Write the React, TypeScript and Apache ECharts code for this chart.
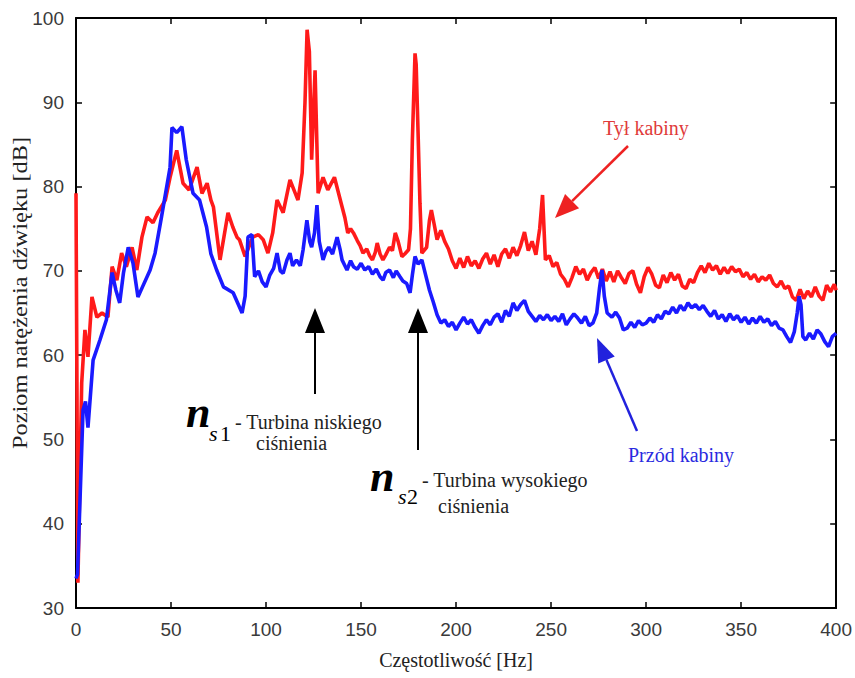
import React, { useEffect, useRef } from "react";
import * as echarts from "echarts";

// Tył kabiny (rear of cabin) — red: [frequency Hz, level dB]
const rearPoints: number[][] = [
  [0, 79.2], [1, 33], [3, 56.7], [4.7, 63], [6.3, 59.8], [8.4, 66.9], [11, 64.5], [13.7, 65], [16.8, 64.5],
  [19, 70.5], [21.5, 68.9], [24, 72.1], [26.5, 70.5], [29.5, 72.8], [32, 70.1], [34.7, 74], [37.4, 76.4],
  [40.5, 75.7], [43, 76.9], [47, 78.4], [49.5, 81.1], [53, 84.3], [56.3, 80.4], [59.5, 79.6], [63.7, 82.3],
  [66.3, 79.2], [69, 80.4], [71, 78.4], [72.3, 77.6], [75.8, 71.3], [80, 76.9], [82.5, 75.2], [84.7, 74],
  [86, 73.7], [89, 71.7], [93, 74], [96, 74.3], [98.5, 73.7], [101, 72.1], [103.5, 74.5], [105.8, 78.4],
  [109, 76.9], [112.6, 80.8], [116.8, 78.4], [119, 81.6], [120.5, 90], [121.6, 98.6], [122.8, 96], [124, 83.2],
  [125.8, 93.8], [127.4, 79.2], [130, 81.1], [132.5, 79.6], [136, 81.1], [140, 77.6], [141.5, 76.3], [143, 74.5],
  [144.5, 75], [146, 74.5], [148, 73.6], [149.5, 73], [151, 72.1], [153, 72.6], [154.5, 71.8], [156, 71.3],
  [157.5, 72.2], [158.5, 73.3], [160, 72], [161.5, 71.3], [163, 71.9], [165, 72.8], [166.5, 72.4], [168, 74.5],
  [169.5, 73.5], [171.5, 71.7], [173, 72], [175, 72.5], [176, 75], [177, 85.5], [178.4, 95.8], [179, 94.5],
  [180, 86.4], [181, 78], [182, 72.1], [184.5, 72.8], [186, 76], [187, 77.2], [188.5, 75.5], [190, 73.7],
  [192, 74.8], [194, 73.5], [196, 72.6], [198, 71.2], [200, 70.3], [202, 71.5], [204, 70.4], [206, 71.7],
  [208, 70.6], [210, 71.2], [212, 70.3], [214, 71.4], [216, 72.1], [218, 70.8], [220, 71.9], [222, 70.5],
  [224, 72], [226, 72.6], [228, 71.5], [230, 72.8], [232, 71.8], [234, 73], [236, 74.6], [238, 72.4],
  [240, 73.5], [242, 71.9], [244, 75], [245.5, 79], [247, 71.3], [249, 71.8], [251, 70.5], [253, 71],
  [255, 69.6], [257, 69], [259, 68.1], [261, 69.2], [263, 70.5], [265, 69.6], [267, 70.2], [269, 68.9],
  [271, 69.8], [273, 70.4], [275, 69.1], [277, 70.2], [279, 68.8], [281, 69.9], [283, 68.7], [285, 70],
  [287, 69.2], [289, 68.5], [291, 69.7], [293, 70], [295, 68.4], [297, 67.4], [299, 69.3], [301, 70.4],
  [303, 69.6], [305, 68.3], [307, 68], [309, 69.5], [311, 68.6], [313, 69.8], [315, 68.9], [317, 69.6],
  [319, 68.2], [321, 67.9], [323, 69], [325, 68.6], [327, 69.8], [329, 70.6], [331, 69.8], [333, 70.9],
  [335, 70.1], [337, 70.6], [339, 69.6], [341, 70.4], [343, 69.7], [345, 70.5], [347, 69.9], [349, 70.2],
  [351, 69.3], [353, 69.8], [355, 69], [357, 69.6], [359, 68.7], [361, 69.3], [363, 68.9], [365, 69.5],
  [367, 68.5], [369, 68.1], [371, 68.8], [373, 67.9], [375, 68.2], [377, 66.9], [379, 66.5], [381, 67.8],
  [383, 66.7], [385, 67.6], [387, 66.9], [389, 68.1], [391, 67], [393, 66.5], [395, 68.3], [397, 67.5],
  [399, 68.4], [400, 67.7],
];

// Przód kabiny (front of cabin) — blue: [frequency Hz, level dB]
const frontPoints: number[][] = [
  [0, 33.5], [0.8, 34], [3.7, 53.5], [5, 54.5], [6.3, 51.4], [9, 59.4], [12.6, 61.8], [16, 64.2], [19, 69.8],
  [21, 67.7], [23, 66.2], [25, 69.8], [27.5, 72.8], [30, 70.9], [32.6, 66.9], [35, 68.1], [39, 70.1],
  [41.6, 72.1], [45, 76.4], [49.5, 82.3], [50.5, 87], [53, 86.4], [55.7, 87.1], [58, 83.2], [61.6, 79.2],
  [65, 78.4], [68.7, 75.2], [71, 72], [74, 70.1], [77.6, 68.1], [82.7, 67.4], [87.4, 65], [89, 67],
  [90.5, 74], [92.6, 74.3], [94, 69.3], [96, 70], [98, 68.7], [100, 68.1], [102, 69.5], [104, 70.3],
  [105.8, 72.1], [107.5, 70], [109, 69.7], [111, 71.3], [112.6, 72.1], [114, 70.6], [116, 71.3], [118, 70.6],
  [119.5, 72.5], [121.5, 76], [123, 73.5], [124, 72.8], [125.5, 74.5], [126.8, 77.8], [128, 73.5], [130, 71.3],
  [131.5, 72.3], [133, 72.8], [135, 72], [137.4, 74], [139, 72.5], [140, 71.3], [141.5, 70.6], [142.6, 70.1],
  [144.5, 71.2], [146, 70.5], [148, 70.2], [150, 70.9], [152, 70.1], [154, 70.5], [156, 69.6], [158, 70.2],
  [160, 69.3], [161.6, 68.9], [163, 69.8], [165, 70.1], [167, 69.2], [168.5, 70], [170.5, 69.3], [172, 68.8],
  [174, 68.5], [175.8, 67.4], [177, 69.5], [178.4, 71.7], [180, 70.8], [182, 71.3], [184, 69.5], [186, 67.7],
  [188, 66.3], [190, 64.8], [192, 63.8], [194, 64.2], [196, 63.4], [198, 63.9], [200, 63], [202, 63.8],
  [204, 64.5], [206, 63.7], [208, 64.2], [210, 63.3], [212, 62.6], [214, 63.5], [216, 64.2], [218, 63.6],
  [220, 64.5], [222, 64.9], [224, 63.9], [226, 65.3], [228, 64.6], [230, 66.2], [232, 65.3], [234, 66],
  [236, 66.5], [238, 65.2], [240, 64.6], [242, 64], [244, 64.7], [246, 64.2], [248, 64.8], [250, 64.1],
  [252, 64.6], [254, 64], [256, 64.9], [258, 63.6], [260, 64.3], [262, 64.9], [264, 64.4], [266, 63.8],
  [268, 64.6], [270, 63.5], [272, 63.8], [274, 65], [275.5, 68], [276.8, 70.1], [278, 67], [279.5, 65],
  [282, 64.5], [284, 65.1], [286, 64.4], [288, 63], [290, 63.2], [292, 63.9], [294, 63.3], [296, 64.1],
  [298, 63.6], [300, 63.8], [302, 64.4], [304, 63.9], [306, 64.8], [308, 64.3], [310, 65.2], [312, 64.9],
  [314, 65.7], [316, 65], [318, 65.9], [320, 65.3], [322, 66.2], [324, 65.6], [326, 66], [328, 65.4],
  [330, 65.9], [332, 65.2], [334, 64.6], [336, 65.3], [338, 64.3], [340, 64.8], [342, 64], [344, 64.9],
  [346, 64.2], [348, 64.7], [350, 63.9], [352, 64.5], [354, 63.7], [356, 64.4], [358, 63.8], [360, 64.6],
  [362, 63.9], [364, 64.3], [366, 63.5], [368, 64], [370, 63.2], [372, 63], [374, 62.2], [376, 61.5],
  [378, 62.8], [379.5, 65], [380.5, 67], [381.5, 66], [382.5, 62.2], [384, 61.8], [386, 62.6], [388, 61.9],
  [390, 63], [392, 62.5], [394, 61.6], [396, 61], [398, 62.2], [400, 62.6],
];

const xTicks = { min: 0, max: 400, interval: 50 };
const yTicks = { min: 30, max: 100, interval: 10 };

const xTitle = "Częstotliwość [Hz]";
const yTitle = "Poziom natężenia dźwięku [dB]";
const rearLabel = "Tył kabiny";
const frontLabel = "Przód kabiny";
const ns1Label = ["- Turbina niskiego", "ciśnienia"];
const ns2Label = ["- Turbina wysokiego", "ciśnienia"];

const SERIF = "'Liberation Serif', 'Times New Roman', serif";
const SANS = "'Liberation Sans', Arial, sans-serif";

function arrow(tail: number[], tip: number[], color: string, len: number, half: number, width: number) {
  const dx = tip[0] - tail[0];
  const dy = tip[1] - tail[1];
  const d = Math.sqrt(dx * dx + dy * dy);
  const ux = dx / d, uy = dy / d;
  const bx = tip[0] - ux * len, by = tip[1] - uy * len;
  const px = -uy, py = ux;
  return [
    {
      type: "line",
      shape: { x1: tail[0], y1: tail[1], x2: bx, y2: by },
      style: { stroke: color, lineWidth: width },
      silent: true,
    },
    {
      type: "polygon",
      shape: {
        points: [
          [tip[0], tip[1]],
          [bx + px * half, by + py * half],
          [bx - px * half, by - py * half],
        ],
      },
      style: { fill: color },
      silent: true,
    },
  ];
}

function txt(text: string, x: number, y: number, size: number, color: string, extra: any = {}) {
  return {
    type: "text",
    x,
    y,
    silent: true,
    style: {
      text,
      fontFamily: SERIF,
      fontSize: size,
      fill: color,
      align: "left",
      verticalAlign: "middle",
      ...extra,
    },
  };
}

export default function App() {
  const ref = useRef<HTMLDivElement>(null);
  useEffect(() => {
    if (!ref.current) return;
    const chart = echarts.init(ref.current, undefined, { renderer: "svg" });
    const axisLine = { show: true, onZero: false, lineStyle: { color: "#000", width: 2 } };
    const tick = { show: true, inside: true, length: 6, lineStyle: { color: "#000", width: 1.5 } };
    const label = { fontFamily: SANS, fontSize: 19, color: "#3a3a3a" };

    const graphic: any[] = [
      {
        type: "text",
        x: 20,
        y: 293,
        rotation: Math.PI / 2,
        scaleX: 1.22,
        silent: true,
        style: {
          text: yTitle,
          fontFamily: SERIF,
          fontSize: 20,
          fill: "#222",
          align: "center",
          verticalAlign: "middle",
        },
      },
      ...arrow([315, 394], [315, 308], "#000", 25, 10, 2),
      ...arrow([418, 450], [418, 308], "#000", 25, 10, 2),
      ...arrow([628, 146], [555, 218], "#ee2222", 24, 10, 2.5),
      ...arrow([637, 431], [597, 338], "#2222dd", 24, 9, 2.5),
      txt("n", 186, 412, 44, "#000", { fontStyle: "italic", fontWeight: "bold" }),
      txt("s", 209, 433, 22, "#000", { fontStyle: "italic" }),
      txt("1", 220, 433, 22, "#000"),
      txt(ns1Label[0], 235, 422, 20, "#222"),
      txt(ns1Label[1], 256, 443, 20, "#222"),
      txt("n", 370, 476, 44, "#000", { fontStyle: "italic", fontWeight: "bold" }),
      txt("s", 398, 496, 22, "#000", { fontStyle: "italic" }),
      txt("2", 407, 496, 22, "#000"),
      txt(ns2Label[0], 422, 480, 20, "#222"),
      txt(ns2Label[1], 438, 506, 20, "#222"),
      txt(rearLabel, 603, 128, 20, "#e03a3a"),
      txt(frontLabel, 628, 455, 20, "#2a2ae0"),
    ];

    chart.setOption({
      animation: false,
      backgroundColor: "#fff",
      grid: { left: 76, right: 17, top: 18, bottom: 70, containLabel: false },
      xAxis: [
        {
          type: "value",
          position: "bottom",
          ...xTicks,
          axisLine,
          axisTick: tick,
          axisLabel: { ...label, margin: 12 },
          splitLine: { show: false },
          name: xTitle,
          nameLocation: "middle",
          nameGap: 42,
          nameTextStyle: { fontFamily: SERIF, fontSize: 20, color: "#222" },
        },
        {
          type: "value",
          position: "top",
          ...xTicks,
          axisLine,
          axisTick: tick,
          axisLabel: { show: false },
          splitLine: { show: false },
        },
      ],
      yAxis: [
        {
          type: "value",
          position: "left",
          ...yTicks,
          axisLine,
          axisTick: tick,
          axisLabel: { ...label, margin: 12 },
          splitLine: { show: false },
        },
        {
          type: "value",
          position: "right",
          ...yTicks,
          axisLine,
          axisTick: tick,
          axisLabel: { show: false },
          splitLine: { show: false },
        },
      ],
      series: [
        {
          name: rearLabel,
          type: "line",
          data: rearPoints,
          showSymbol: false,
          lineStyle: { color: "#ff1a1a", width: 3.6 },
          itemStyle: { color: "#ff1a1a" },
          z: 2,
        },
        {
          name: frontLabel,
          type: "line",
          data: frontPoints,
          showSymbol: false,
          lineStyle: { color: "#1a1aff", width: 3.6 },
          itemStyle: { color: "#1a1aff" },
          z: 3,
        },
      ],
      graphic,
    });
    return () => chart.dispose();
  }, []);
  return (
    <div
      ref={ref}
      style={{ position: "fixed", left: 0, top: 0, width: 855, height: 678, background: "#fff" }}
    />
  );
}
